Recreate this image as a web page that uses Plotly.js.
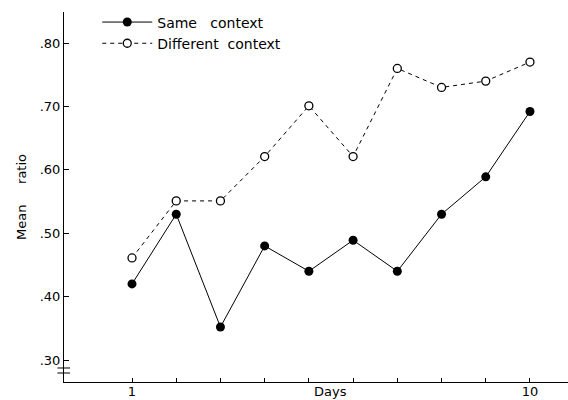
<!DOCTYPE html>
<html>
<head>
<meta charset="utf-8">
<script src="https://cdn.plot.ly/plotly-3.0.1.min.js"></script>
<style>html,body{margin:0;padding:0;background:#fff;}#chart{width:568px;height:400px;}</style>
</head>
<body>
<div id="chart"></div>
<script>
const days = [1, 2, 3, 4, 5, 6, 7, 8, 9, 10];
const sameContext = [0.42, 0.53, 0.352, 0.48, 0.44, 0.489, 0.44, 0.53, 0.589, 0.692];
const differentContext = [0.461, 0.551, 0.551, 0.621, 0.701, 0.621, 0.76, 0.73, 0.74, 0.77];
const seriesNames = ['Same\u00a0\u00a0\u00a0context', 'Different\u00a0\u00a0context'];
const yTickVals = [0.30, 0.40, 0.50, 0.60, 0.70, 0.80];
const yTickText = ['.30', '.40', '.50', '.60', '.70', '.80'];
const xTickText = ['1', '', '', '', '', '', '', '', '', '10'];

const font = 'DejaVu Sans, sans-serif';

const traces = [
  {
    x: days, y: sameContext, name: seriesNames[0], type: 'scatter', mode: 'lines+markers',
    line: {color: '#000', width: 1},
    marker: {color: '#000', size: 9, symbol: 'circle'}
  },
  {
    x: days, y: differentContext, name: seriesNames[1], type: 'scatter', mode: 'lines+markers',
    line: {color: '#000', width: 1, dash: '4px,4px'},
    marker: {color: '#fff', size: 8, symbol: 'circle', line: {color: '#000', width: 1.3}}
  }
];

const layout = {
  width: 568, height: 400,
  margin: {l: 64, r: 0, t: 12, b: 18},
  paper_bgcolor: '#fff', plot_bgcolor: '#fff',
  font: {family: font, color: '#000', size: 13},
  showlegend: true,
  legend: {
    x: 0.066, y: 1.015, xanchor: 'left', yanchor: 'top',
    bgcolor: 'rgba(0,0,0,0)', font: {family: font, size: 14, color: '#000'},
    tracegroupgap: 0, itemwidth: 50
  },
  xaxis: {
    range: [-0.538, 10.86], tickvals: days, ticktext: xTickText,
    showgrid: false, zeroline: false, showline: true, linecolor: '#000', linewidth: 1,
    ticks: 'inside', ticklen: 4, tickcolor: '#000', tickwidth: 1,
    ticklabelstandoff: -3,
    tickfont: {family: font, size: 13, color: '#000'}
  },
  yaxis: {
    range: [0.2653, 0.849], tickvals: yTickVals, ticktext: yTickText,
    showgrid: false, zeroline: false, showline: true, linecolor: '#000', linewidth: 1,
    ticks: 'inside', ticklen: 5, tickcolor: '#000', tickwidth: 1,
    tickfont: {family: font, size: 13, color: '#000'},
    title: {text: 'Mean\u00a0\u00a0\u00a0\u00a0\u00a0ratio', font: {family: font, size: 13, color: '#000'}, standoff: 10}
  },
  annotations: [
    {text: 'Days', xref: 'x', x: 5.5, yref: 'paper', y: 0, yanchor: 'top', yshift: 0,
     showarrow: false, font: {family: font, size: 13, color: '#000'}}
  ],
  shapes: [
    {type: 'line', xref: 'paper', yref: 'y', x0: -0.013, x1: 0.012, y0: 0.2874, y1: 0.2874, line: {color: '#000', width: 1}},
    {type: 'line', xref: 'paper', yref: 'y', x0: -0.013, x1: 0.012, y0: 0.2795, y1: 0.2795, line: {color: '#000', width: 1}}
  ]
};

Plotly.newPlot('chart', traces, layout, {displayModeBar: false, staticPlot: true});
</script>
</body>
</html>
